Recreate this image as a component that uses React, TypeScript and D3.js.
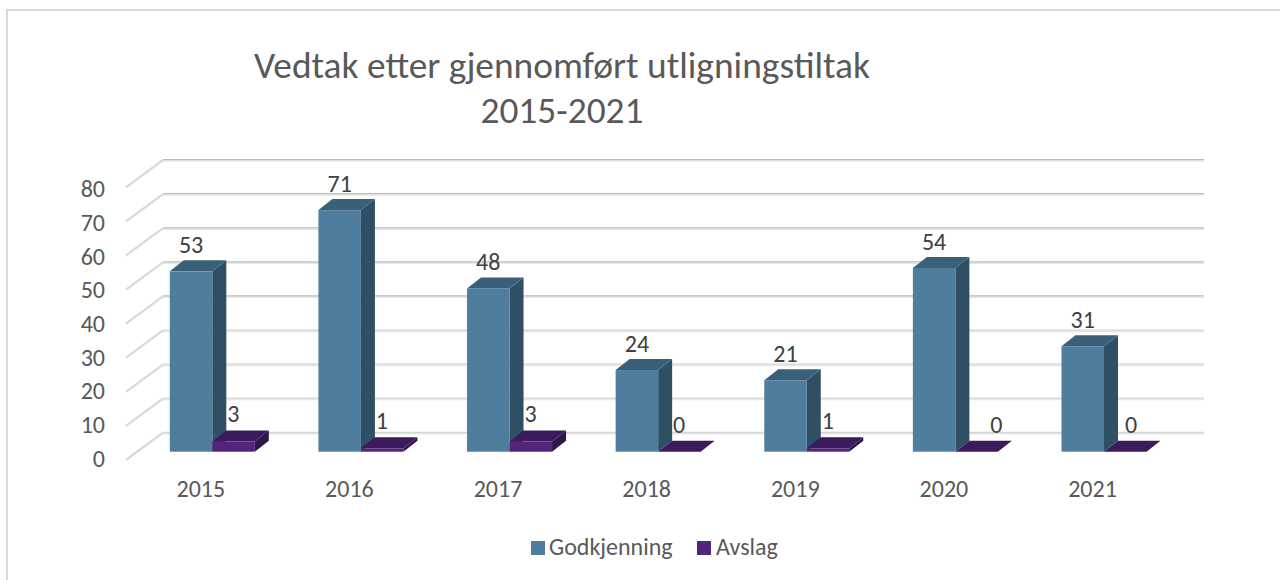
import React from 'react';
import * as d3 from 'd3';

const years = ['2015', '2016', '2017', '2018', '2019', '2020', '2021'];
const godkjenning = [53, 71, 48, 24, 21, 54, 31];
const avslag = [3, 1, 3, 0, 1, 0, 0];
const yTicks = [0, 10, 20, 30, 40, 50, 60, 70, 80];
const titleLines = ['Vedtak etter gjennomført utligningstiltak', '2015-2021'];

const FONT = 'Carlito, Calibri, Lato, sans-serif';
const DX = 14;
const DY = -11;

const x = d3.scaleBand<string>().domain(years).range([138, 1178.3]);
const barW = 42.5;
// front plane of the bars
const yFront = d3.scaleLinear().domain([0, 80]).range([451.7, 179.5]);
// back wall
const yBack = d3.scaleLinear().domain([0, 80]).range([432.7, 160]);
// tick label baselines, slightly tighter than the wall
const yLabel = d3.scaleLinear().domain([0, 80]).range([466.7, 197.3]);

const poly = (pts: [number, number][]) => d3.line()(pts) + 'Z';

// the 0 labels were hand moved in the original chart
const labelNudge: Record<string, number> = { '2020': 20, '2021': 6 };

function Bar3D({ x0, value, front, side, top }: { x0: number; value: number; front: string; side: string; top: string }) {
  const y0 = yFront(0);
  const y1 = yFront(value);
  const x1 = x0 + barW;
  return (
    <g>
      <path d={poly([[x1, y1], [x1 + DX, y1 + DY], [x1 + DX, y0 + DY], [x1, y0]])} fill={side} />
      <path d={poly([[x0, y1], [x0 + DX, y1 + DY], [x1 + DX, y1 + DY], [x1, y1]])} fill={top} />
      {value > 0 && <rect x={x0} y={y1} width={barW} height={y0 - y1} fill={front} />}
    </g>
  );
}

export default function App() {
  return (
    <svg
      width={1280}
      height={580}
      style={{ position: 'absolute', left: 0, top: 0, background: '#fff' }}
      fontFamily={FONT}
    >
      <path d="M7 580V10H1280" fill="none" stroke="#d9d9d9" strokeWidth={2} />

      {titleLines.map((t, i) => (
        <text key={t} x={562} y={78 + i * 45} textAnchor="middle" fontSize={37.4} fill="#595959">
          {t}
        </text>
      ))}

      {yTicks.map((t) => (
        <g key={t} fill="none">
          <path d={`M126 ${yBack(t) + 27.3}L163 ${yBack(t)}`} stroke="#d9d9d9" strokeWidth={2.2} />
          <path d={`M163 ${yBack(t) + 1}H1204`} stroke="#e6e6e6" strokeWidth={1.5} />
          <path d={`M163 ${yBack(t) - 0.4}H1204`} stroke={t >= 40 ? '#bdbdbd' : '#d4d4d4'} strokeWidth={1.2} />
        </g>
      ))}

      {yTicks.map((t) => (
        <text key={t} x={105} y={yLabel(t)} textAnchor="end" fontSize={24} fill="#595959">
          {t}
        </text>
      ))}

      {years.map((year, i) => {
        const x0 = (x(year) as number) + x.bandwidth() / 2 - barW;
        return (
          <g key={year}>
            <Bar3D x0={x0} value={godkjenning[i]} front="#4f7d9e" side="#2f5064" top="#3a6079" />
            <Bar3D x0={x0 + barW} value={avslag[i]} front="#52247a" side="#30154a" top="#3c1b5c" />
            <text x={x0 + barW / 2} y={yFront(godkjenning[i]) - 18} textAnchor="middle" fontSize={24} fill="#404040">
              {godkjenning[i]}
            </text>
            <text
              x={x0 + barW + 21 + (labelNudge[year] ?? 0)}
              y={yFront(avslag[i]) - 19}
              textAnchor="middle"
              fontSize={24}
              fill="#404040"
            >
              {avslag[i]}
            </text>
            <text x={x0 + 31} y={497} textAnchor="middle" fontSize={24} fill="#595959">
              {year}
            </text>
          </g>
        );
      })}

      <rect x={531} y={541} width={14} height={14} fill="#4f7d9e" />
      <text x={549} y={555} fontSize={24} fill="#595959">Godkjenning</text>
      <rect x={697} y={541} width={14} height={14} fill="#52247a" />
      <text x={716} y={555} fontSize={24} fill="#595959">Avslag</text>
    </svg>
  );
}
